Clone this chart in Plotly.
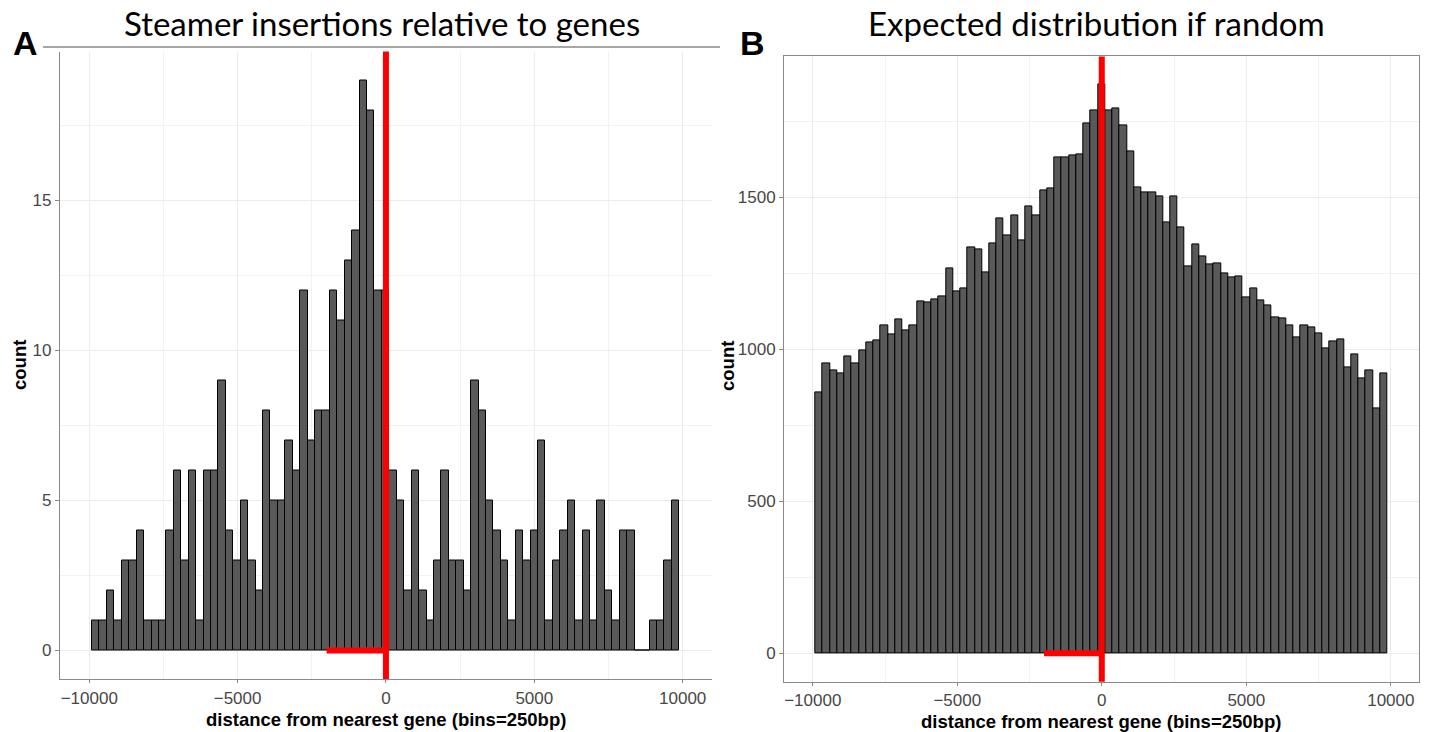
import plotly.graph_objects as go

# Histogram binning (bins of ~250 bp spanning +/- 10 kb around the nearest gene)
bin_start = -9905.0
bin_width = 250.5

# Panel A: observed Steamer insertions per bin
counts_observed = [
    1, 1, 2, 1, 3, 3, 4, 1, 1, 1,
    4, 6, 3, 6, 1, 6, 6, 9, 4, 3,
    5, 3, 2, 8, 5, 5, 7, 6, 12, 7,
    8, 8, 12, 11, 13, 14, 19, 18, 12, 12,
    6, 5, 2, 6, 2, 1, 3, 6, 3, 3,
    2, 9, 8, 5, 4, 3, 1, 4, 3, 4,
    7, 1, 3, 4, 5, 1, 4, 1, 5, 2,
    1, 4, 4, 0, 0, 1, 1, 3, 5,
]

# Panel B: expected counts for randomly placed insertions
counts_random = [
    858, 955, 930, 921, 975, 953, 995, 1022, 1029, 1079,
    1049, 1097, 1062, 1079, 1157, 1154, 1165, 1173, 1265, 1189,
    1201, 1336, 1327, 1254, 1349, 1432, 1374, 1442, 1357, 1471,
    1440, 1523, 1528, 1632, 1630, 1637, 1641, 1742, 1786, 1870,
    1786, 1792, 1737, 1652, 1533, 1516, 1516, 1503, 1416, 1503,
    1401, 1274, 1344, 1307, 1278, 1283, 1250, 1235, 1239, 1170,
    1199, 1161, 1144, 1105, 1102, 1079, 1040, 1077, 1071, 1051,
    1004, 1025, 1031, 939, 984, 903, 931, 807, 921,
]

x_ticks = [-10000, -5000, 0, 5000, 10000]
x_tick_text = ["\u221210000", "\u22125000", "0", "5000", "10000"]
y_ticks_observed = [0, 5, 10, 15]
y_ticks_random = [0, 500, 1000, 1500]

# Gene start marker and 2 kb upstream window
gene_start = 0
upstream_start = -2000

titles = ["Steamer insertions relative to genes", "Expected distribution if random"]
panel_labels = ["A", "B"]
x_title = "distance from nearest gene (bins=250bp)"
y_title = "count"

W, H = 1430, 732


def px_x(p):
    return p / W


def px_y(p):
    return 1 - p / H


def centers(n):
    return [bin_start + bin_width * (i + 0.5) for i in range(n)]


bar_fill = "#595959"
grid_major = "#EBEBEB"
frame_col = "#8a8a8a"
tick_font = dict(family="Liberation Sans, Arial, sans-serif", size=17, color="#474747")

fig = go.Figure()
fig.add_trace(go.Bar(
    x=centers(len(counts_observed)), y=counts_observed, width=bin_width,
    marker=dict(color=bar_fill, line=dict(color="black", width=1)),
    xaxis="x", yaxis="y", showlegend=False,
))
fig.add_trace(go.Bar(
    x=centers(len(counts_random)), y=counts_random, width=bin_width,
    marker=dict(color=bar_fill, line=dict(color="black", width=1)),
    xaxis="x2", yaxis="y2", showlegend=False,
))

x_range = [-10985, 10975]

# panel rectangles in pixels: (left, right, top, bottom)
panel_a = (60, 711.6, 51.5, 679)
panel_b = (784.3, 1419, 56.4, 681.7)

ymax_a = max(counts_observed) * 1.05
ymax_b = max(counts_random) * 1.05


def xaxis_cfg(panel, mirror):
    return dict(
        domain=[px_x(panel[0]), px_x(panel[1])], range=x_range,
        tickvals=x_ticks, ticktext=x_tick_text, ticks="outside", ticklen=3,
        tickcolor=frame_col, tickfont=tick_font,
        showgrid=True, gridcolor=grid_major, gridwidth=1.2,
        minor=dict(dtick=2500, showgrid=True, gridcolor="#F2F2F2", gridwidth=0.7),
        showline=True, linecolor=frame_col, linewidth=1.4, mirror=mirror,
        zeroline=False, fixedrange=True,
    )


def yaxis_cfg(panel, rng, ticks, minor_step, mirror, anchor):
    return dict(
        domain=[px_y(panel[3]), px_y(panel[2])], range=rng,
        tickvals=ticks, ticks="outside", ticklen=4, tickcolor=frame_col,
        tickfont=tick_font, showgrid=True, gridcolor=grid_major, gridwidth=1.2,
        minor=dict(dtick=minor_step, tick0=0, showgrid=True, gridcolor="#F2F2F2", gridwidth=0.7),
        showline=True, linecolor=frame_col, linewidth=1.4, mirror=mirror,
        zeroline=False, anchor=anchor, fixedrange=True,
    )


fig.update_layout(
    width=W, height=H,
    margin=dict(l=0, r=0, t=0, b=0),
    paper_bgcolor="white", plot_bgcolor="white",
    bargap=0,
    xaxis=dict(anchor="y", **xaxis_cfg(panel_a, False)),
    yaxis=yaxis_cfg(panel_a, [-ymax_a + max(counts_observed), ymax_a], y_ticks_observed, 2.5, False, "x"),
    xaxis2=dict(anchor="y2", **xaxis_cfg(panel_b, True)),
    yaxis2=yaxis_cfg(panel_b, [-ymax_b + max(counts_random), ymax_b], y_ticks_random, 250, True, "x2"),
)

# top rule above panel A
fig.add_shape(type="line", xref="paper", yref="paper",
              x0=px_x(43), x1=px_x(720), y0=px_y(47), y1=px_y(47),
              line=dict(color=frame_col, width=1.4))

# red gene-start markers
for xr, yr in (("x", "y"), ("x2", "y2")):
    fig.add_shape(type="line", xref=xr, yref=yr + " domain",
                  x0=gene_start, x1=gene_start, y0=0, y1=1,
                  line=dict(color="#FF0000", width=6))
    fig.add_shape(type="line", xref=xr, yref=yr,
                  x0=upstream_start, x1=gene_start, y0=0, y1=0,
                  line=dict(color="#FF0000", width=6))

title_font = dict(family="Lato, Open Sans, sans-serif", size=33, color="black")
label_font = dict(family="Liberation Sans, Arial, sans-serif", size=34, color="black")
axis_title_font = dict(family="Liberation Sans, Arial, sans-serif", size=18.5, color="black")

annotations = [
    dict(text=titles[0], x=px_x(382), y=px_y(23), font=title_font),
    dict(text=titles[1], x=px_x(1096), y=px_y(23), font=title_font),
    dict(text="<b>%s</b>" % panel_labels[0], x=px_x(25), y=px_y(43), font=label_font),
    dict(text="<b>%s</b>" % panel_labels[1], x=px_x(752), y=px_y(43), font=label_font),
    dict(text="<b>%s</b>" % x_title, x=px_x(386), y=px_y(719), font=axis_title_font),
    dict(text="<b>%s</b>" % x_title, x=px_x(1101), y=px_y(721), font=axis_title_font),
    dict(text="<b>%s</b>" % y_title, x=px_x(20), y=px_y(365), font=axis_title_font, textangle=-90),
    dict(text="<b>%s</b>" % y_title, x=px_x(727), y=px_y(366), font=axis_title_font, textangle=-90),
]
for a in annotations:
    a.update(xref="paper", yref="paper", showarrow=False, xanchor="center", yanchor="middle")
fig.update_layout(annotations=annotations)

fig.write_html("out.html")
